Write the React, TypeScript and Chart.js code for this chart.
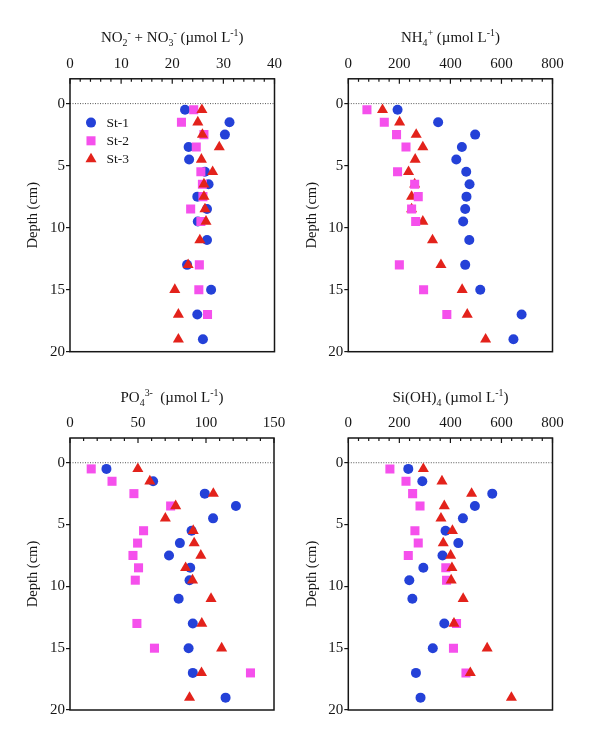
import React, { useEffect, useRef } from "react";
import { Chart, registerables } from "chart.js";

Chart.register(...registerables);

// ---------- data ----------
const depths = [0.5, 1.5, 2.5, 3.5, 4.5, 5.5, 6.5, 7.5, 8.5, 9.5, 11, 13, 15, 17, 19];
const seriesNames = ["St-1", "St-2", "St-3"];

const no3St1 = [22.5, 31.2, 30.3, 23.2, 23.3, 26.4, 27.1, 24.9, 26.8, 25.0, 26.8, 22.9, 27.6, 24.9, 26.0];
const no3St2 = [24.2, 21.8, 26.2, 24.7, null, 25.6, 25.9, 26.0, 23.6, 25.6, null, 25.3, 25.2, 26.9, null];
const no3St3 = [25.8, 25.0, 25.9, 29.2, 25.7, 27.9, 26.2, 26.2, 26.4, 26.6, 25.4, 23.1, 20.5, 21.2, 21.2];

const nh4St1 = [193, 352, 497, 445, 423, 462, 475, 463, 458, 450, 474, 458, 517, 679, 647];
const nh4St2 = [73, 141, 189, 226, null, 193, 260, 274, 248, 264, null, 200, 295, 386, null];
const nh4St3 = [134, 201, 266, 292, 262, 236, 260, 248, 248, 292, 330, 363, 446, 466, 538];

const po4St1 = [26.8, 61.1, 99.1, 122, 105.2, 89.4, 80.8, 72.8, 88.4, 87.9, 79.9, 90.3, 87.2, 90.3, 114.4];
const po4St2 = [15.6, 30.9, 47.0, 74.0, null, 54.1, 49.7, 46.3, 50.4, 48.0, null, 49.2, 62.1, 132.7, null];
const po4St3 = [49.9, 58.7, 105.4, 77.7, 70.1, 90.6, 91.3, 96.2, 85.0, 90.1, 103.7, 96.9, 111.5, 96.7, 87.9];

const siSt1 = [235, 290, 564, 496, 449, 381, 431, 369, 294, 239, 251, 376, 331, 265, 283];
const siSt2 = [163, 226, 252, 281, null, 261, 274, 235, 382, 385, null, 424, 412, 461, null];
const siSt3 = [294, 367, 483, 376, 363, 408, 372, 401, 406, 403, 450, 414, 544, 478, 639];

const depthTicks = [0, 5, 10, 15, 20];
const no3Ticks = [0, 10, 20, 30, 40];
const nh4Ticks = [0, 200, 400, 600, 800];
const po4Ticks = [0, 50, 100, 150];
const siTicks = [0, 200, 400, 600, 800];

const depthTitle = "Depth (cm)";
const no3Title: [string, string][] = [["NO", ""], ["2", "sub"], ["-", "sup"], [" + NO", ""], ["3", "sub"], ["-", "sup"], [" (µmol L", ""], ["-1", "sup"], [")", ""]];
const nh4Title: [string, string][] = [["NH", ""], ["4", "sub"], ["+", "sup"], [" (µmol L", ""], ["-1", "sup"], [")", ""]];
const po4Title: [string, string][] = [["PO", ""], ["4", "sub"], ["3-", "sup"], ["  (µmol L", ""], ["-1", "sup"], [")", ""]];
const siTitle: [string, string][] = [["Si(OH)", ""], ["4", "sub"], [" (µmol L", ""], ["-1", "sup"], [")", ""]];

// ---------- styles ----------
const FONT = '"Liberation Serif", "Times New Roman", serif';
const colors = ["#2441d8", "#f550ec", "#e3221b"];
const pointStyles = ["circle", "rect", "triangle"];
const radii = [5, 6.4, 6.4];
const INK = "#161616";

type Box = { l: number; r: number; t: number; b: number };
type Cfg = {
  canvas: { x: number; y: number; w: number; h: number };
  box: Box;
  series: (number | null)[][];
  ticks: number[];
  minor: number;
  title: [string, string][];
  titleBaseline: number;
  yTitleX: number;
  order: number[];
  legend: boolean;
};

const panels: Cfg[] = [
  {
    canvas: { x: 0, y: 0, w: 300, h: 366 },
    box: { l: 70, r: 274.5, t: 78.8, b: 351.7 },
    series: [no3St1, no3St2, no3St3],
    ticks: no3Ticks, minor: 2, title: no3Title, titleBaseline: 41.7, yTitleX: 33.5,
    order: [3, 2, 1], legend: true,
  },
  {
    canvas: { x: 290, y: 0, w: 318, h: 366 },
    box: { l: 348.3, r: 552.5, t: 78.8, b: 351.7 },
    series: [nh4St1, nh4St2, nh4St3],
    ticks: nh4Ticks, minor: 40, title: nh4Title, titleBaseline: 41.7, yTitleX: 312.5,
    order: [3, 1, 2], legend: false,
  },
  {
    canvas: { x: 0, y: 366, w: 300, h: 367 },
    box: { l: 70, r: 274, t: 438, b: 710 },
    series: [po4St1, po4St2, po4St3],
    ticks: po4Ticks, minor: 10, title: po4Title, titleBaseline: 401.7, yTitleX: 33.5,
    order: [3, 2, 1], legend: false,
  },
  {
    canvas: { x: 290, y: 366, w: 318, h: 367 },
    box: { l: 348.3, r: 552.5, t: 438, b: 710 },
    series: [siSt1, siSt2, siSt3],
    ticks: siTicks, minor: 40, title: siTitle, titleBaseline: 401.7, yTitleX: 312.5,
    order: [3, 2, 1], legend: false,
  },
];

function drawMarker(ctx: CanvasRenderingContext2D, style: string, x: number, y: number, r: number, color: string) {
  ctx.save();
  ctx.fillStyle = color;
  ctx.beginPath();
  if (style === "circle") {
    ctx.arc(x, y, r, 0, Math.PI * 2);
  } else if (style === "rect") {
    const s = r * Math.SQRT1_2;
    ctx.rect(x - s, y - s, 2 * s, 2 * s);
  } else {
    const a = Math.PI / 2;
    for (let i = 0; i < 3; i++) {
      const ang = -a + (i * 2 * Math.PI) / 3;
      const px = x + Math.cos(ang) * r;
      const py = y + Math.sin(ang) * r;
      if (i === 0) ctx.moveTo(px, py);
      else ctx.lineTo(px, py);
    }
    ctx.closePath();
  }
  ctx.fill();
  ctx.restore();
}

function drawRich(ctx: CanvasRenderingContext2D, segs: [string, string][], cx: number, baseline: number, size: number) {
  const small = size * 0.66;
  const widths = segs.map(([t, k]) => {
    ctx.font = `${k ? small : size}px ${FONT}`;
    return ctx.measureText(t).width;
  });
  const total = widths.reduce((a, b) => a + b, 0);
  let x = cx - total / 2;
  ctx.fillStyle = INK;
  ctx.textAlign = "left";
  ctx.textBaseline = "alphabetic";
  segs.forEach(([t, k], i) => {
    ctx.font = `${k ? small : size}px ${FONT}`;
    const dy = k === "sub" ? size * 0.3 : k === "sup" ? -size * 0.4 : 0;
    ctx.fillText(t, x, baseline + dy);
    x += widths[i];
  });
}

function makeDecor(cfg: Cfg) {
  return {
    id: "decor",
    beforeDatasetsDraw(chart: any) {
      const { ctx, chartArea } = chart;
      const y0 = chart.scales.y.getPixelForValue(0);
      ctx.save();
      ctx.strokeStyle = "#555";
      ctx.lineWidth = 1;
      ctx.setLineDash([1, 1.5]);
      ctx.beginPath();
      ctx.moveTo(chartArea.left, y0);
      ctx.lineTo(chartArea.right, y0);
      ctx.stroke();
      ctx.restore();
    },
    afterDraw(chart: any) {
      const { ctx, chartArea } = chart;
      const ox = cfg.canvas.x;
      const oy = cfg.canvas.y;
      ctx.save();
      // frame
      ctx.strokeStyle = INK;
      ctx.lineWidth = 1.5;
      ctx.strokeRect(chartArea.left, chartArea.top, chartArea.right - chartArea.left, chartArea.bottom - chartArea.top);
      // inward ticks on top axis
      const xs = chart.scales.x;
      const maxV = cfg.ticks[cfg.ticks.length - 1];
      const majorStep = cfg.ticks[1] - cfg.ticks[0];
      ctx.lineWidth = 1.2;
      for (let k = 0; k * cfg.minor <= maxV + 1e-9; k++) {
        const v = k * cfg.minor;
        const isMajor = Math.abs(v / majorStep - Math.round(v / majorStep)) < 1e-6;
        const px = xs.getPixelForValue(v);
        ctx.beginPath();
        ctx.moveTo(px, chartArea.top);
        ctx.lineTo(px, chartArea.top + (isMajor ? 5 : 3));
        ctx.stroke();
      }
      // title
      drawRich(ctx, cfg.title, (chartArea.left + chartArea.right) / 2, cfg.titleBaseline - oy, 15);
      // legend
      if (cfg.legend) {
        const lx = 91 - ox;
        const ly = [122.6, 140.8, 159.1];
        seriesNames.forEach((name, i) => {
          drawMarker(ctx, pointStyles[i], lx, ly[i] - oy, radii[i], colors[i]);
          ctx.font = `13.5px ${FONT}`;
          ctx.fillStyle = INK;
          ctx.textAlign = "left";
          ctx.textBaseline = "middle";
          ctx.fillText(name, 106.5 - ox, ly[i] - oy + 0.5);
        });
      }
      ctx.restore();
    },
  };
}

function Panel({ cfg }: { cfg: Cfg }) {
  const ref = useRef<HTMLCanvasElement>(null);
  useEffect(() => {
    const c = cfg.canvas;
    const b = cfg.box;
    const yWidth = b.l - c.x;
    const xHeight = b.t - c.y;
    const titleLH = 14.5 * 1.2;
    const chart = new Chart(ref.current as HTMLCanvasElement, {
      type: "scatter",
      data: {
        datasets: cfg.series.map((vals, i) => ({
          label: seriesNames[i],
          data: depths
            .map((d, k) => (vals[k] == null ? null : { x: vals[k] as number, y: d }))
            .filter((p) => p !== null) as { x: number; y: number }[],
          pointStyle: pointStyles[i] as any,
          pointRadius: radii[i],
          pointHoverRadius: radii[i],
          backgroundColor: colors[i],
          borderColor: colors[i],
          borderWidth: 0,
          order: cfg.order[i],
        })),
      },
      options: {
        responsive: false,
        animation: false,
        events: [],
        layout: {
          padding: {
            left: 0,
            top: 0,
            right: c.x + c.w - b.r,
            bottom: c.y + c.h - b.b,
          },
        },
        plugins: {
          legend: { display: false },
          tooltip: { enabled: false },
        },
        scales: {
          x: {
            type: "linear",
            position: "top",
            min: cfg.ticks[0],
            max: cfg.ticks[cfg.ticks.length - 1],
            afterBuildTicks: (s: any) => {
              s.ticks = cfg.ticks.map((v) => ({ value: v }));
            },
            afterFit: (s: any) => {
              s.height = xHeight;
            },
            grid: { display: false, drawTicks: false },
            border: { display: false },
            ticks: {
              padding: 6,
              color: INK,
              font: { family: FONT, size: 15 },
              maxRotation: 0,
              autoSkip: false,
            },
          },
          y: {
            type: "linear",
            reverse: true,
            min: -2,
            max: 20,
            afterBuildTicks: (s: any) => {
              s.ticks = depthTicks.map((v) => ({ value: v }));
            },
            afterFit: (s: any) => {
              s.width = yWidth;
            },
            grid: {
              display: true,
              drawOnChartArea: false,
              drawTicks: true,
              tickLength: 4,
              color: INK,
              lineWidth: 1.2,
            },
            border: { display: false },
            ticks: {
              padding: 1,
              color: INK,
              font: { family: FONT, size: 15 },
              autoSkip: false,
            },
            title: {
              display: true,
              text: depthTitle,
              color: INK,
              font: { family: FONT, size: 14.5, lineHeight: 1.2 },
              padding: { top: cfg.yTitleX - c.x - titleLH / 2, bottom: 0 },
            },
          },
        },
      },
      plugins: [makeDecor(cfg)],
    } as any);
    return () => chart.destroy();
  }, [cfg]);
  const c = cfg.canvas;
  return (
    <canvas
      ref={ref}
      width={c.w}
      height={c.h}
      style={{ position: "absolute", left: c.x, top: c.y, width: c.w, height: c.h }}
    />
  );
}

export default function App() {
  return (
    <div style={{ position: "absolute", left: 0, top: 0, width: 608, height: 733, background: "#fff" }}>
      {panels.map((p, i) => (
        <Panel key={i} cfg={p} />
      ))}
    </div>
  );
}
